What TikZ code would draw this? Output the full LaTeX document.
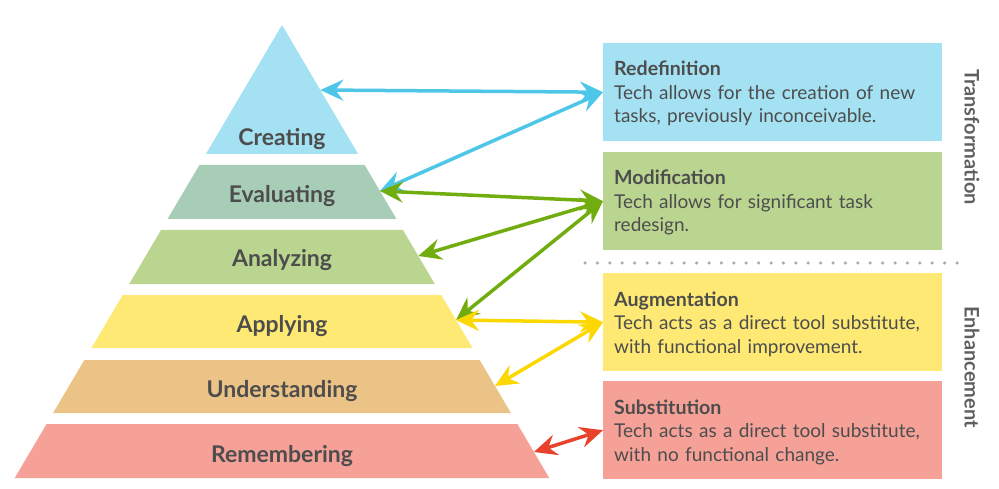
\documentclass[tikz,border=0pt]{standalone}
\usepackage{fontspec}
\setmainfont{Lato}
\usetikzlibrary{arrows.meta,positioning}
\definecolor{crea}{HTML}{A4E2F3}
\definecolor{eval}{HTML}{A7CDB7}
\definecolor{anal}{HTML}{BAD590}
\definecolor{appl}{HTML}{FDE974}
\definecolor{unde}{HTML}{EBC386}
\definecolor{reme}{HTML}{F5A198}
\definecolor{txt}{HTML}{4D4D4D}
\definecolor{side}{HTML}{5F5F5F}
\definecolor{dots}{HTML}{AAAAAA}
\definecolor{blueline}{HTML}{4EC6E8}
\definecolor{greenline}{HTML}{72AD0F}
\definecolor{yellowline}{HTML}{FCD800}
\definecolor{redline}{HTML}{E8412C}
\newcommand{\samrtitle}[1]{{\fontsize{19.6}{23.5}\selectfont\bfseries #1}}
\tikzset{
  level/.style={anchor=base, inner sep=0pt, text=txt, font=\fontsize{23}{23}\selectfont\bfseries},
  samrbox/.style={anchor=north west, minimum width=339pt, minimum height=98pt, inner sep=0pt},
  boxtext/.style={anchor=base west, text width=330pt, align=left, inner sep=0pt, text=txt, font=\fontsize{19}{23.5}\selectfont},
  sidelabel/.style={rotate=-90, inner sep=0pt, text=side, font=\fontsize{20}{20}\selectfont\bfseries},
  link/.style={line width=3.5pt, >={Stealth[length=23pt,width=21pt,inset=8pt]}, <->}
}
\begin{document}
\begin{tikzpicture}[x=1pt,y=-1pt]
    \useasboundingbox (0,0) rectangle (999,489);
    %% Bloom's pyramid
    \foreach \t/\b/\o/\c/\n/\lbl in {25/154/8/crea/cre/Creating, 165/219/16/eval/eva/Evaluating,
        230/284/17/anal/ana/Analyzing, 295/348/16/appl/app/Applying,
        360/413/16/unde/und/Understanding, 424/478/16/reme/rem/Remembering}{
        \fill[\c] ({282-0.59*(\t-25)},\t) -- ({282+0.59*(\t-25)},\t) -- ({282+0.59*(\b-25)},\b) -- ({282-0.59*(\b-25)},\b) -- cycle;
        \node[level] (\n) at (282,\b-\o) {\lbl};
    }
    %% points on the right side of the pyramid
    \foreach \n/\y in {cre/90, eva/191, ana/256, app/320, und/386, rem/452}
        \coordinate (\n-r) at ({282+0.59*(\y-25)},\y);
    %% SAMR boxes
    \node[samrbox, fill=crea] (redef) at (603,43) {};
    \node[samrbox, fill=anal] (modif) at (603,152) {};
    \node[samrbox, fill=appl] (augm) at (603,273) {};
    \node[samrbox, fill=reme] (subst) at (603,381) {};
    \node[boxtext] (redef-t) at ([xshift=11pt,yshift=-33pt]redef.north west) {\samrtitle{Redefinition}\\Tech allows for the creation of new\\tasks, previously inconceivable.};
    \node[boxtext] (modif-t) at ([xshift=11pt,yshift=-33pt]modif.north west) {\samrtitle{Modification}\\Tech allows for significant task\\redesign.};
    \node[boxtext] (augm-t) at ([xshift=11pt,yshift=-33pt]augm.north west) {\samrtitle{Augmentation}\\Tech acts as a direct tool substitute,\\with functional improvement.};
    \node[boxtext] (subst-t) at ([xshift=11pt,yshift=-33pt]subst.north west) {\samrtitle{Substitution}\\Tech acts as a direct tool substitute,\\with no functional change.};
    %% separator and side labels
    \coordinate (sep-l) at (585,263);
    \coordinate (sep-r) at (957,263);
    \draw[dots, line width=3.5pt, line cap=round, dash pattern=on 0pt off 12.4pt] (sep-l) -- (sep-r);
    \node[sidelabel] (transf) at (972,137) {Transformation};
    \node[sidelabel] (enhan) at (972,367) {Enhancement};
    %% arrows
    \draw[link, blueline] (cre-r) -- (redef.west);
    \draw[link, blueline] (eva-r) -- (redef.west);
    \draw[link, greenline] (eva-r) -- (modif.west);
    \draw[link, greenline] (ana-r) -- (modif.west);
    \draw[link, greenline] (app-r) -- (modif.west);
    \draw[link, yellowline] (app-r) -- (augm.west);
    \draw[link, yellowline] (und-r) -- (augm.west);
    \draw[link, redline] (rem-r) -- (subst.west);
\end{tikzpicture}
\end{document}
